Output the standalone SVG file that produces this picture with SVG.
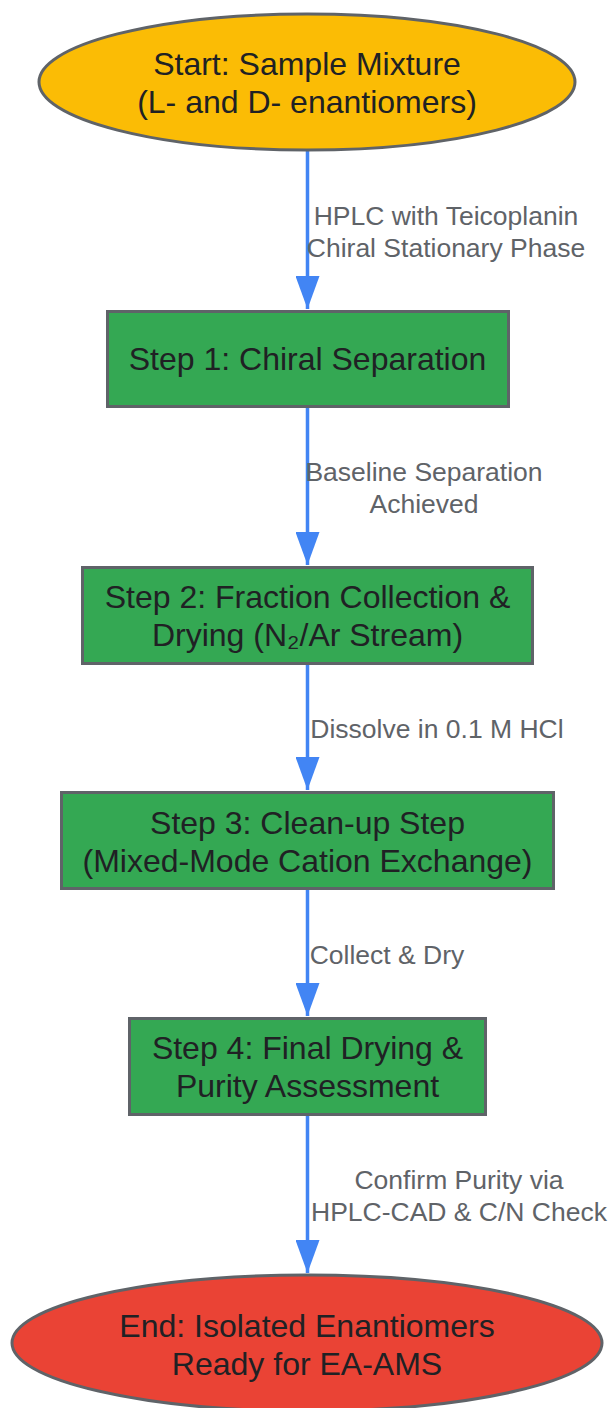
<svg xmlns="http://www.w3.org/2000/svg" width="612" height="1408" viewBox="0 0 612 1408">
<style>
.node{stroke:#5f6368;stroke-width:3}
.start{fill:#FBBC05}
.step{fill:#34A853}
.end{fill:#EA4335}
.nt{font-family:"Liberation Sans",Arial,sans-serif;font-size:32px;fill:#202124;text-anchor:middle;dominant-baseline:central}
.et{font-family:"Liberation Sans",Arial,sans-serif;font-size:26.5px;fill:#5f6368;text-anchor:middle;dominant-baseline:central}
.edge{stroke:#4285F4;stroke-width:3.5;fill:none;marker-end:url(#arrow)}
</style>
<defs>
<marker id="arrow" markerUnits="userSpaceOnUse" viewBox="0 0 33 24" refX="33" refY="12" markerWidth="33" markerHeight="24" orient="auto">
<path d="M0,0 L33,12 L0,24 z" fill="#4285F4"/>
</marker>
</defs>
<rect width="612" height="1408" fill="#ffffff"/>
<g id="connectors">
<line class="edge" x1="307.5" y1="150" x2="307.5" y2="309"/>
<text class="et" x="446" y="216">HPLC with Teicoplanin</text>
<text class="et" x="446" y="248">Chiral Stationary Phase</text>
<line class="edge" x1="307.5" y1="407" x2="307.5" y2="565"/>
<text class="et" x="424" y="472">Baseline Separation</text>
<text class="et" x="424" y="504">Achieved</text>
<line class="edge" x1="307.5" y1="664" x2="307.5" y2="790"/>
<text class="et" x="437" y="729">Dissolve in 0.1 M HCl</text>
<line class="edge" x1="307.5" y1="889" x2="307.5" y2="1016"/>
<text class="et" x="387" y="955">Collect &amp; Dry</text>
<line class="edge" x1="307.5" y1="1115" x2="307.5" y2="1273"/>
<text class="et" x="459" y="1180">Confirm Purity via</text>
<text class="et" x="459" y="1212">HPLC-CAD &amp; C/N Check</text>
</g>
<g id="start">
<ellipse class="node start" cx="307" cy="82" rx="268" ry="68"/>
<text class="nt" x="307" y="64">Start: Sample Mixture</text>
<text class="nt" x="307" y="102">(L- and D- enantiomers)</text>
</g>
<g id="step1">
<rect class="node step" x="107.5" y="311.5" width="401" height="95"/>
<text class="nt" x="307.5" y="359">Step 1: Chiral Separation</text>
</g>
<g id="step2">
<rect class="node step" x="82.5" y="567.5" width="450" height="96"/>
<text class="nt" x="307.5" y="597">Step 2: Fraction Collection &amp;</text>
<text class="nt" x="307.5" y="635">Drying (N₂/Ar Stream)</text>
</g>
<g id="step3">
<rect class="node step" x="61.5" y="792.5" width="492" height="96"/>
<text class="nt" x="307.5" y="823">Step 3: Clean-up Step</text>
<text class="nt" x="307.5" y="861">(Mixed-Mode Cation Exchange)</text>
</g>
<g id="step4">
<rect class="node step" x="129.5" y="1018.5" width="356" height="96"/>
<text class="nt" x="307.5" y="1048">Step 4: Final Drying &amp;</text>
<text class="nt" x="307.5" y="1086">Purity Assessment</text>
</g>
<g id="end">
<ellipse class="node end" cx="307" cy="1343" rx="295" ry="68"/>
<text class="nt" x="307" y="1326">End: Isolated Enantiomers</text>
<text class="nt" x="307" y="1364">Ready for EA-AMS</text>
</g>
</svg>
